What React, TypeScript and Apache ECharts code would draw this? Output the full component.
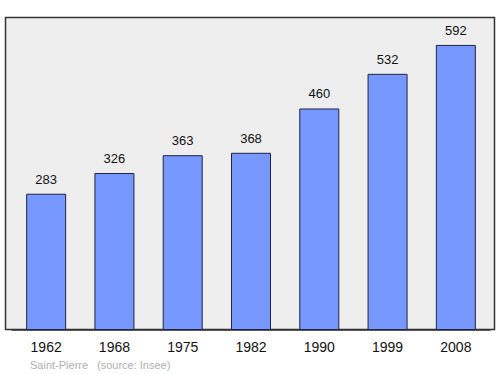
import React, { useEffect, useRef } from "react";
import * as echarts from "echarts";

const years = ["1962", "1968", "1975", "1982", "1990", "1999", "2008"];
const population = [283, 326, 363, 368, 460, 532, 592];
const townName = "Saint-Pierre";
const sourceText = "(source: Insee)";

export default function App() {
  const ref = useRef<HTMLDivElement>(null);
  useEffect(() => {
    const chart = echarts.init(ref.current!, null, { renderer: "svg" });
    chart.setOption({
      animation: false,
      textStyle: { fontFamily: "Liberation Sans, Arial, sans-serif" },
      graphic: [
        {
          type: "rect",
          z: -10,
          shape: { x: 5.5, y: 17.5, width: 489, height: 312 },
          style: { fill: "#eeeeee", stroke: "#333333", lineWidth: 1.5 },
        },
        {
          type: "text",
          left: 30,
          top: 359,
          style: { text: townName, fill: "#b0b0b0", font: "11px Liberation Sans, Arial, sans-serif" },
        },
        {
          type: "text",
          left: 97,
          top: 359,
          style: { text: sourceText, fill: "#b0b0b0", font: "11px Liberation Sans, Arial, sans-serif" },
        },
      ],
      grid: { left: 12, right: 10, top: 17, bottom: 44 },
      xAxis: {
        type: "category",
        data: years,
        axisLine: { show: true, lineStyle: { color: "#333333", width: 1.5 } },
        axisTick: { show: false },
        axisLabel: { color: "#111111", fontSize: 14, margin: 10 },
      },
      yAxis: {
        type: "value",
        min: 0,
        max: 650,
        show: false,
        splitLine: { show: false },
      },
      series: [
        {
          type: "bar",
          data: population,
          barWidth: 40,
          itemStyle: { color: "#7799ff", borderColor: "#222244", borderWidth: 1 },
          label: {
            show: true,
            position: "top",
            distance: 8,
            color: "#111111",
            fontSize: 13,
          },
        },
      ],
    });
    return () => chart.dispose();
  }, []);
  return <div ref={ref} style={{ width: 500, height: 374, position: "absolute", left: 0, top: 0 }} />;
}
